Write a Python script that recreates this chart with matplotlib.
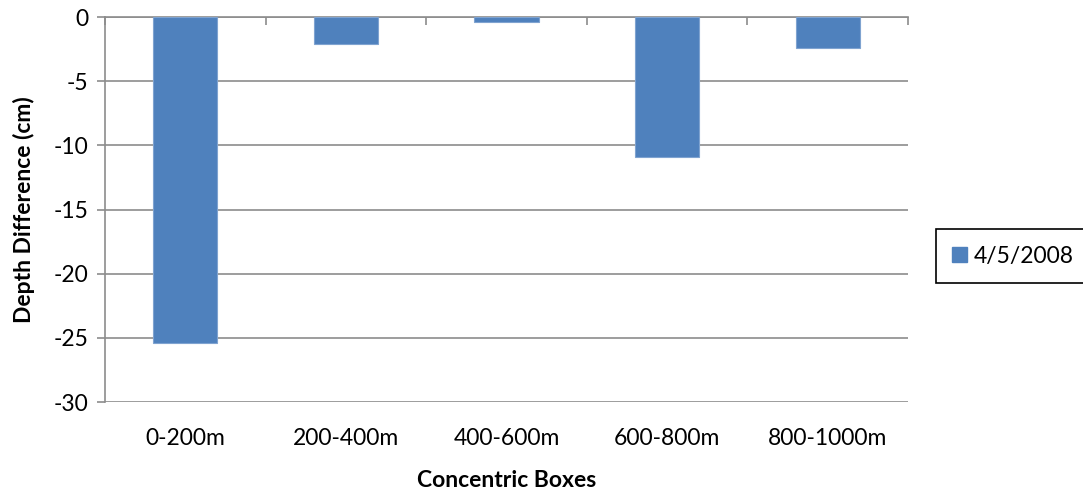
import matplotlib
matplotlib.use("Agg")
from matplotlib import pyplot as plt
import matplotlib.patches as mpatches
import numpy as np

plt.rcParams['font.family'] = ['Lato', 'DejaVu Sans']

categories = ["0-200m", "200-400m", "400-600m", "600-800m", "800-1000m"]
depthDiff = [-25.4, -2.1, -0.4, -10.9, -2.4]
seriesName = "4/5/2008"
yTicks = [0, -5, -10, -15, -20, -25, -30]

barColor = '#4F81BD'
gridColor = '#8C8C8C'
fs = 16.5

fig = plt.figure(figsize=(10.83, 4.9), dpi=100)
ax = fig.add_axes([105/1083, 1 - 402/490, (908 - 105)/1083, (402 - 17)/490])

x = np.arange(len(categories))
ax.bar(x, depthDiff, width=0.4, color=barColor, edgecolor='#7FA3D0', linewidth=0.8, zorder=3)

ax.set_xlim(-0.5, len(categories) - 0.5)
ax.set_ylim(-30, 0)
ax.set_yticks(yTicks)
ax.set_yticklabels([str(t) for t in yTicks])
ax.yaxis.grid(True, color=gridColor, linewidth=1.2, zorder=0)

# category labels at the bottom, boundary ticks on the zero line (top)
ax.set_xticks(x)
ax.set_xticklabels(categories)
ax.set_xticks(np.arange(len(categories) + 1) - 0.5, minor=True)
ax.tick_params(axis='x', which='major', length=0, pad=19, labelsize=fs)
ax.tick_params(axis='x', which='minor', bottom=False, top=True, direction='in',
               length=6, width=1.2, color=gridColor)
ax.tick_params(axis='y', length=6, width=1.2, color=gridColor, pad=6, labelsize=fs)

for side in ['right', 'bottom']:
    ax.spines[side].set_visible(False)
ax.spines['left'].set_color(gridColor)
ax.spines['left'].set_linewidth(1.2)
ax.spines['top'].set_color(gridColor)
ax.spines['top'].set_linewidth(1.2)

ax.set_xlabel("Concentric Boxes", fontsize=fs, fontweight='bold', labelpad=15)
ax.set_ylabel("Depth Difference (cm)", fontsize=fs, fontweight='bold', labelpad=13)

bluePatch = mpatches.Patch(color=barColor, label=seriesName)
leg = fig.legend(handles=[bluePatch], loc='center left',
                 bbox_to_anchor=(936/1083, 1 - 256/490), fontsize=fs,
                 fancybox=False, framealpha=1, edgecolor='black',
                 handlelength=0.65, handleheight=0.65, handletextpad=0.3,
                 borderpad=0.7, borderaxespad=0)
leg.get_frame().set_linewidth(1.2)

fig.savefig("out.png", dpi=100)
